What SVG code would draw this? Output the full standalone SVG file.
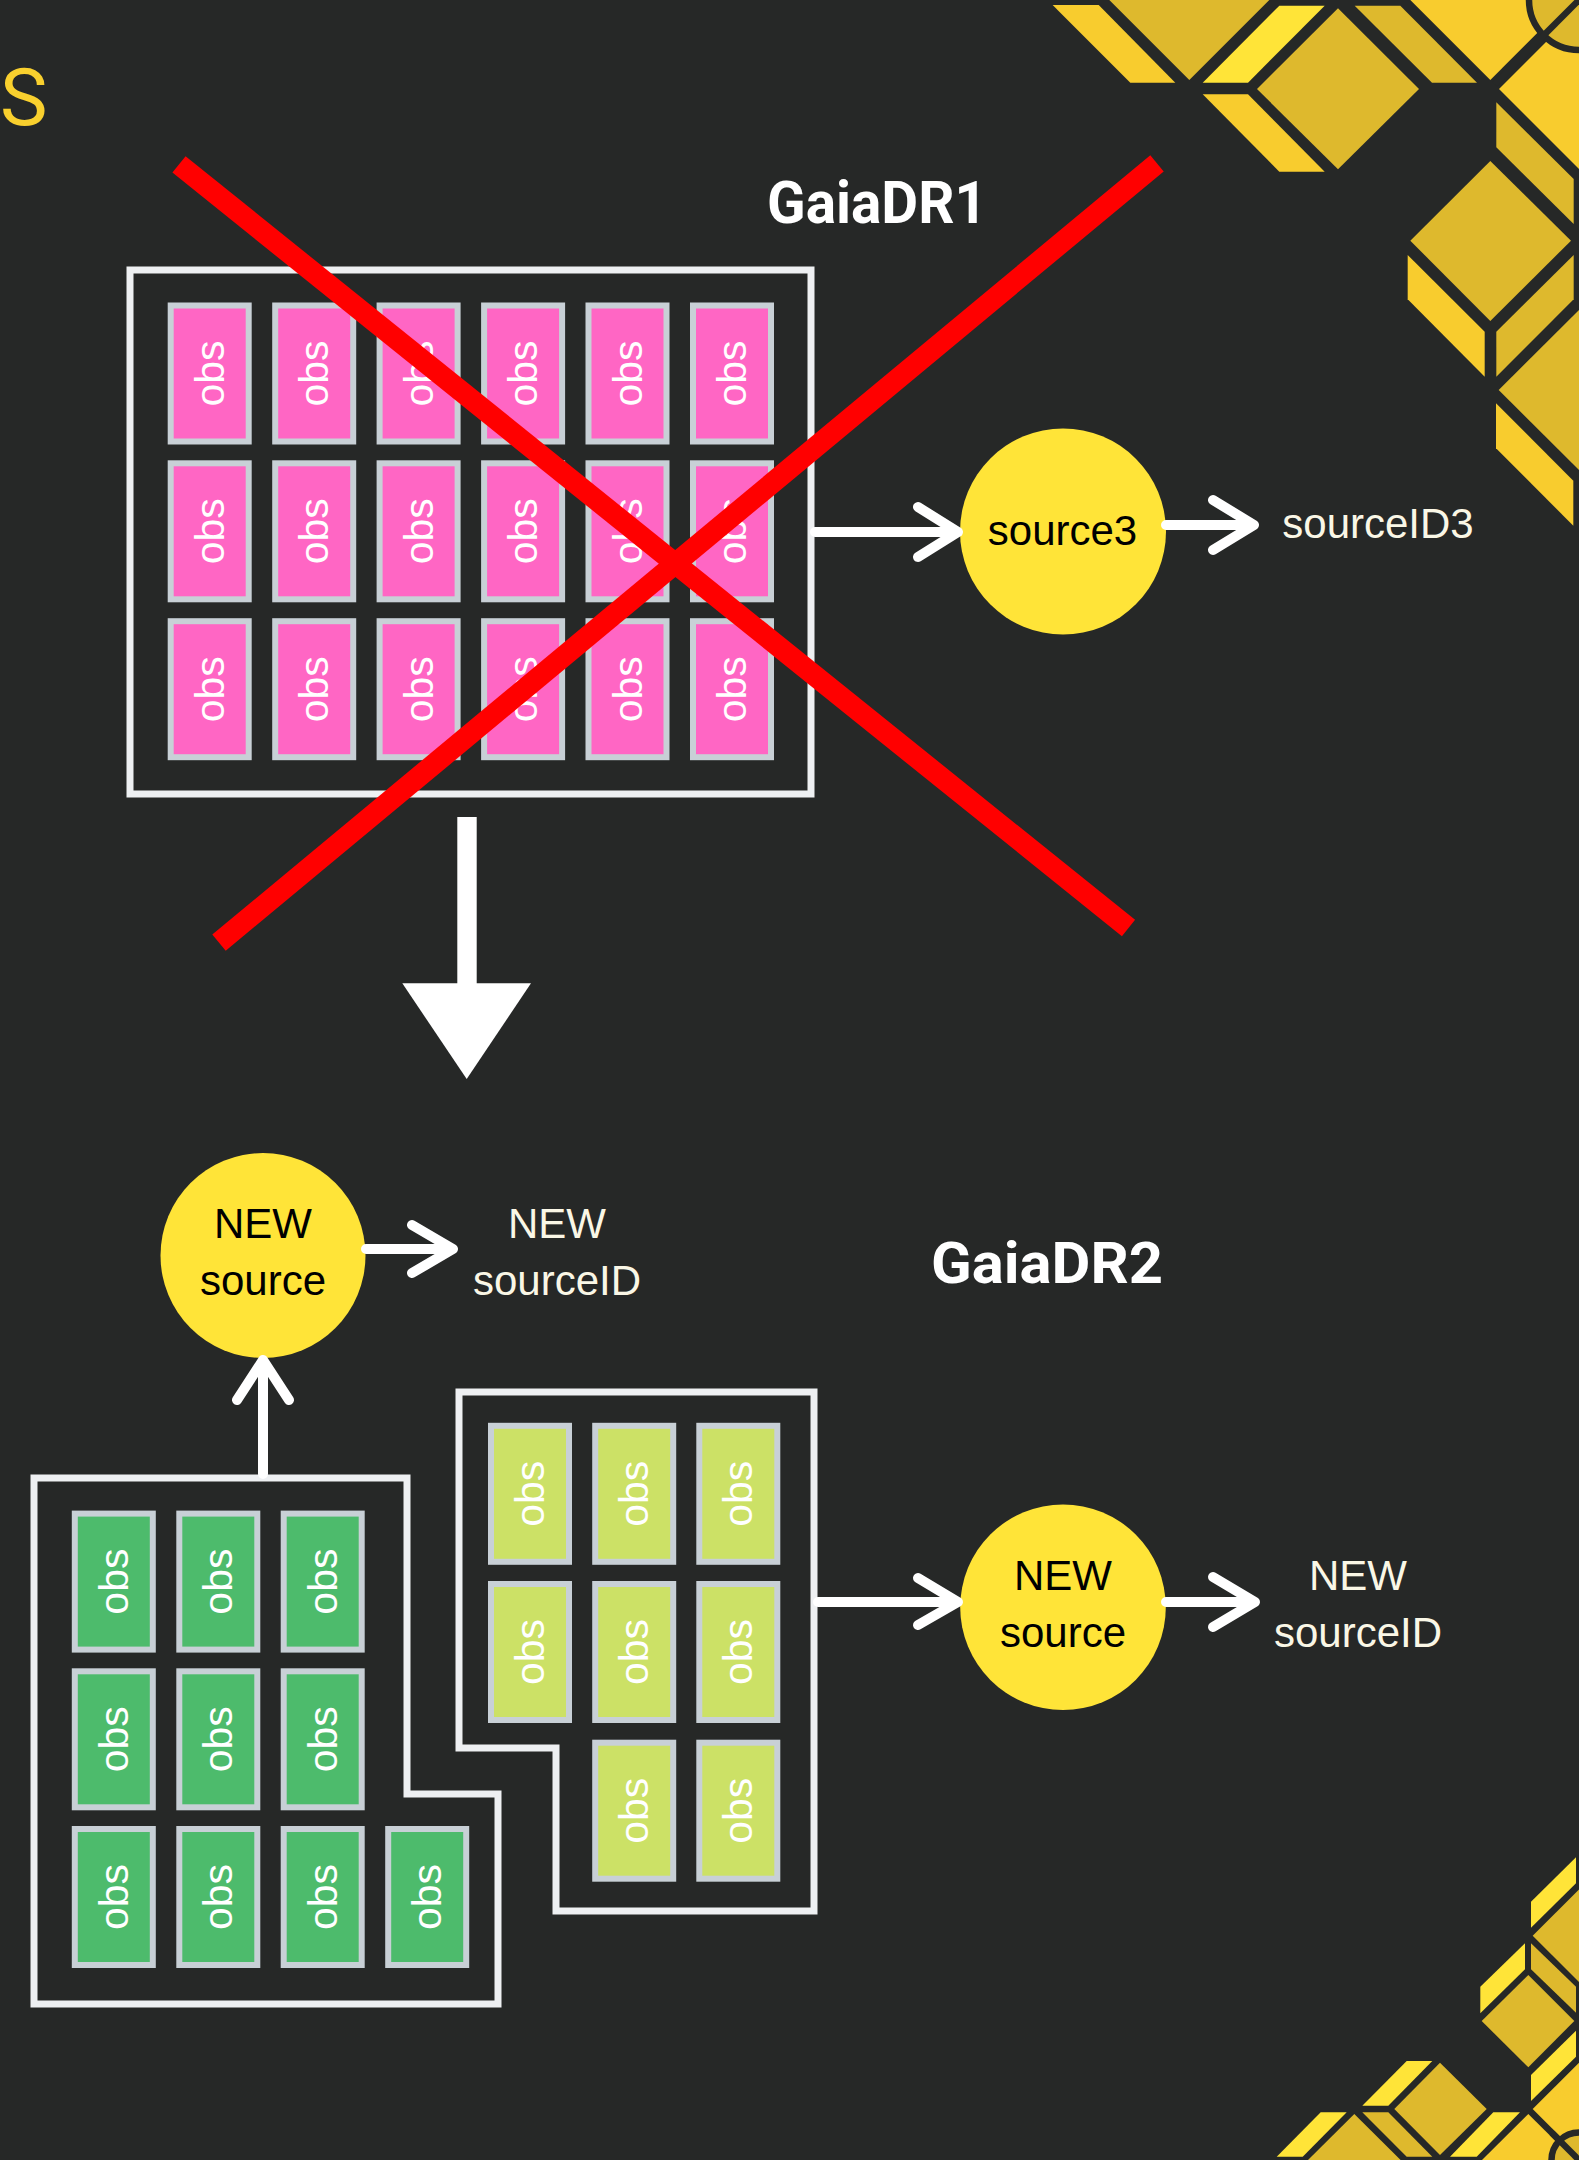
<svg xmlns="http://www.w3.org/2000/svg" width="1579" height="2160" viewBox="0 0 1579 2160">
<style>
.bg{fill:#262827}
.c1{fill:#FFE438}
.c2{fill:#F8CC2E}
.c3{fill:#DEB92D}
.ring{stroke:#262827;stroke-width:6.5}
.gap{stroke:#262827;stroke-width:6.5;fill:none}
.box{fill:none;stroke:#EEF0F2;stroke-width:7;stroke-linecap:square}
.pk{fill:#FF66C4;stroke:#C8D0D6;stroke-width:6}
.gr{fill:#4DBB6C;stroke:#C8D0D6;stroke-width:6}
.lg{fill:#CCE166;stroke:#C8D0D6;stroke-width:6}
.obs{font-family:"Liberation Sans",Arial,sans-serif;font-size:41px;fill:#FFFFFF;text-anchor:middle}
.node{fill:#FFE438}
.ntext{font-family:"Liberation Sans",Arial,sans-serif;font-size:42px;fill:#000000;text-anchor:middle}
.lbl{font-family:"Liberation Sans",Arial,sans-serif;font-size:42px;fill:#FAF7E6;text-anchor:middle}
.title{font-family:Roboto,"Noto Sans",sans-serif;font-weight:700;fill:#FFFFFF}
.conn{fill:none;stroke:#FFFFFF;stroke-width:10;stroke-linecap:round;stroke-linejoin:round}
.xline{stroke:#FF0000;stroke-width:21}
</style>
<rect class="bg" x="0" y="0" width="1579" height="2160"/>

<g id="decor-top-right">
<polygon class="c2" points="1052.6,5 1098.7,5 1175.3,82.7 1130.3,82.7"/>
<polygon class="c3" points="1109.3,0 1189.3,-80 1269.3,0 1189.3,80"/>
<polygon class="c1" points="1279.3,5.7 1324.7,5.7 1248,82.7 1202.7,82.7"/>
<polygon class="c2" points="1202.7,94.3 1248,94.3 1324.7,171.7 1279.3,171.7"/>
<polygon class="c3" points="1257,89 1338,8.3 1419,89 1338,169.3"/>
<polygon class="c3" points="1354.7,5.7 1400.3,5.7 1477,82.7 1432,82.7"/>
<polygon class="c2" points="1410.3,0 1490.3,-80 1570.3,0 1490.3,80"/>
<polygon class="c2" points="1499,89 1579,9 1659,89 1579,169"/>
<circle class="c3 ring" cx="1579" cy="0" r="50"/>
<line class="gap" x1="1494.6" y1="84.5" x2="1584" y2="-5"/>
<polygon class="c3" points="1496.3,102.3 1573.7,179 1573.7,224 1496.3,147.3"/>
<polygon class="c3" points="1410.3,240.7 1490.3,161 1571,240.7 1490.3,321"/>
<polygon class="c2" points="1407.7,255 1484.7,331.7 1484.7,376.7 1407.7,299.3"/>
<polygon class="c3" points="1496.3,331.7 1573.7,255 1573.7,299.3 1496.3,376.7"/>
<polygon class="c3" points="1498.7,390 1579,310 1659,390 1579,470"/>
<polygon class="c2" points="1496,403.3 1573.3,480.7 1573.3,525.7 1496,448.3"/>
</g>

<g id="decor-bottom-right">
<polygon class="c1" points="1531,1901.7 1576,1857.3 1576,1883.3 1531,1927.7"/>
<polygon class="c3" points="1532.7,1935.7 1579,1889.4 1625,1935.7 1579,1982"/>
<polygon class="c3" points="1531,1943.3 1576,1986.7 1576,2012.7 1531,1969.3"/>
<polygon class="c1" points="1480.3,1986.7 1525,1943.3 1525,1969.3 1480.3,2013.3"/>
<polygon class="c3" points="1481.7,2021 1528.3,1975 1574.3,2021 1528.3,2067.3"/>
<polygon class="c1" points="1531,2075 1576,2030.7 1576,2056.7 1531,2101"/>
<polygon class="c2" points="1532.7,2109 1579,2062.7 1625,2109 1579,2155.3"/>
<polygon class="c2" points="1482,2160 1528.3,2114 1574.6,2160 1528.3,2206"/>
<circle class="c3 ring" cx="1579" cy="2160" r="27.5"/>
<line class="gap" x1="1552" y1="2133" x2="1590" y2="2171"/>
<polygon class="c1" points="1450,2156.7 1493.3,2112.3 1520,2112.3 1476.7,2156.7"/>
<polygon class="c3" points="1394.3,2109 1440,2062.7 1486.7,2109 1440,2155"/>
<polygon class="c1" points="1362.3,2105.7 1406.7,2061 1432.3,2061 1388.3,2105.7"/>
<polygon class="c3" points="1362.3,2112.3 1388.3,2112.3 1432.3,2156.7 1406.7,2156.7"/>
<polygon class="c3" points="1308,2160 1354.3,2114 1400.6,2160 1354.3,2206"/>
<polygon class="c1" points="1276.7,2156.7 1320.7,2112.3 1346.7,2112.3 1302.7,2156.7"/>
</g>

<g id="title-fragment">
<text x="0" y="125" style="font-family:Roboto,'Noto Sans',sans-serif;font-size:80px;fill:#F9D02E">S</text>
</g>

<g id="label-gaiadr1">
<text class="title" x="767" y="223" font-size="60" textLength="220" lengthAdjust="spacingAndGlyphs">GaiaDR1</text>
</g>
<g id="label-gaiadr2">
<text class="title" x="931" y="1283.3" font-size="58" textLength="232" lengthAdjust="spacingAndGlyphs">GaiaDR2</text>
</g>

<g id="dr1-container">
<rect class="box" x="130" y="270" width="681" height="524"/>
</g>
<g id="dr1-cells">
<g id="dr1-r1c1" transform="translate(167.7,302.5)"><rect class="pk" x="3" y="3" width="78" height="136"/><text class="obs" transform="translate(42,71) rotate(-90)" y="14">obs</text></g>
<g id="dr1-r1c2" transform="translate(272.2,302.5)"><rect class="pk" x="3" y="3" width="78" height="136"/><text class="obs" transform="translate(42,71) rotate(-90)" y="14">obs</text></g>
<g id="dr1-r1c3" transform="translate(376.6,302.5)"><rect class="pk" x="3" y="3" width="78" height="136"/><text class="obs" transform="translate(42,71) rotate(-90)" y="14">obs</text></g>
<g id="dr1-r1c4" transform="translate(481.1,302.5)"><rect class="pk" x="3" y="3" width="78" height="136"/><text class="obs" transform="translate(42,71) rotate(-90)" y="14">obs</text></g>
<g id="dr1-r1c5" transform="translate(585.5,302.5)"><rect class="pk" x="3" y="3" width="78" height="136"/><text class="obs" transform="translate(42,71) rotate(-90)" y="14">obs</text></g>
<g id="dr1-r1c6" transform="translate(690,302.5)"><rect class="pk" x="3" y="3" width="78" height="136"/><text class="obs" transform="translate(42,71) rotate(-90)" y="14">obs</text></g>
<g id="dr1-r2c1" transform="translate(167.7,460.3)"><rect class="pk" x="3" y="3" width="78" height="136"/><text class="obs" transform="translate(42,71) rotate(-90)" y="14">obs</text></g>
<g id="dr1-r2c2" transform="translate(272.2,460.3)"><rect class="pk" x="3" y="3" width="78" height="136"/><text class="obs" transform="translate(42,71) rotate(-90)" y="14">obs</text></g>
<g id="dr1-r2c3" transform="translate(376.6,460.3)"><rect class="pk" x="3" y="3" width="78" height="136"/><text class="obs" transform="translate(42,71) rotate(-90)" y="14">obs</text></g>
<g id="dr1-r2c4" transform="translate(481.1,460.3)"><rect class="pk" x="3" y="3" width="78" height="136"/><text class="obs" transform="translate(42,71) rotate(-90)" y="14">obs</text></g>
<g id="dr1-r2c5" transform="translate(585.5,460.3)"><rect class="pk" x="3" y="3" width="78" height="136"/><text class="obs" transform="translate(42,71) rotate(-90)" y="14">obs</text></g>
<g id="dr1-r2c6" transform="translate(690,460.3)"><rect class="pk" x="3" y="3" width="78" height="136"/><text class="obs" transform="translate(42,71) rotate(-90)" y="14">obs</text></g>
<g id="dr1-r3c1" transform="translate(167.7,618.2)"><rect class="pk" x="3" y="3" width="78" height="136"/><text class="obs" transform="translate(42,71) rotate(-90)" y="14">obs</text></g>
<g id="dr1-r3c2" transform="translate(272.2,618.2)"><rect class="pk" x="3" y="3" width="78" height="136"/><text class="obs" transform="translate(42,71) rotate(-90)" y="14">obs</text></g>
<g id="dr1-r3c3" transform="translate(376.6,618.2)"><rect class="pk" x="3" y="3" width="78" height="136"/><text class="obs" transform="translate(42,71) rotate(-90)" y="14">obs</text></g>
<g id="dr1-r3c4" transform="translate(481.1,618.2)"><rect class="pk" x="3" y="3" width="78" height="136"/><text class="obs" transform="translate(42,71) rotate(-90)" y="14">obs</text></g>
<g id="dr1-r3c5" transform="translate(585.5,618.2)"><rect class="pk" x="3" y="3" width="78" height="136"/><text class="obs" transform="translate(42,71) rotate(-90)" y="14">obs</text></g>
<g id="dr1-r3c6" transform="translate(690,618.2)"><rect class="pk" x="3" y="3" width="78" height="136"/><text class="obs" transform="translate(42,71) rotate(-90)" y="14">obs</text></g>
</g>

<g id="dr2a-container">
<polygon class="box" points="34,1478 407,1478 407,1794 498,1794 498,2004 34,2004"/>
</g>
<g id="dr2a-cells">
<g id="dr2a-r1c1" transform="translate(71.8,1510.6)"><rect class="gr" x="3" y="3" width="78" height="136"/><text class="obs" transform="translate(42,71) rotate(-90)" y="14">obs</text></g>
<g id="dr2a-r1c2" transform="translate(176.3,1510.6)"><rect class="gr" x="3" y="3" width="78" height="136"/><text class="obs" transform="translate(42,71) rotate(-90)" y="14">obs</text></g>
<g id="dr2a-r1c3" transform="translate(280.7,1510.6)"><rect class="gr" x="3" y="3" width="78" height="136"/><text class="obs" transform="translate(42,71) rotate(-90)" y="14">obs</text></g>
<g id="dr2a-r2c1" transform="translate(71.8,1668.3)"><rect class="gr" x="3" y="3" width="78" height="136"/><text class="obs" transform="translate(42,71) rotate(-90)" y="14">obs</text></g>
<g id="dr2a-r2c2" transform="translate(176.3,1668.3)"><rect class="gr" x="3" y="3" width="78" height="136"/><text class="obs" transform="translate(42,71) rotate(-90)" y="14">obs</text></g>
<g id="dr2a-r2c3" transform="translate(280.7,1668.3)"><rect class="gr" x="3" y="3" width="78" height="136"/><text class="obs" transform="translate(42,71) rotate(-90)" y="14">obs</text></g>
<g id="dr2a-r3c1" transform="translate(71.8,1826)"><rect class="gr" x="3" y="3" width="78" height="136"/><text class="obs" transform="translate(42,71) rotate(-90)" y="14">obs</text></g>
<g id="dr2a-r3c2" transform="translate(176.3,1826)"><rect class="gr" x="3" y="3" width="78" height="136"/><text class="obs" transform="translate(42,71) rotate(-90)" y="14">obs</text></g>
<g id="dr2a-r3c3" transform="translate(280.7,1826)"><rect class="gr" x="3" y="3" width="78" height="136"/><text class="obs" transform="translate(42,71) rotate(-90)" y="14">obs</text></g>
<g id="dr2a-r3c4" transform="translate(385.2,1826)"><rect class="gr" x="3" y="3" width="78" height="136"/><text class="obs" transform="translate(42,71) rotate(-90)" y="14">obs</text></g>
</g>

<g id="dr2b-container">
<polygon class="box" points="459,1392 814,1392 814,1911 556,1911 556,1748 459,1748"/>
</g>
<g id="dr2b-cells">
<g id="dr2b-r1c1" transform="translate(488,1422.8)"><rect class="lg" x="3" y="3" width="78" height="136"/><text class="obs" transform="translate(42,71) rotate(-90)" y="14">obs</text></g>
<g id="dr2b-r1c2" transform="translate(592.2,1422.8)"><rect class="lg" x="3" y="3" width="78" height="136"/><text class="obs" transform="translate(42,71) rotate(-90)" y="14">obs</text></g>
<g id="dr2b-r1c3" transform="translate(696.3,1422.8)"><rect class="lg" x="3" y="3" width="78" height="136"/><text class="obs" transform="translate(42,71) rotate(-90)" y="14">obs</text></g>
<g id="dr2b-r2c1" transform="translate(488,1581)"><rect class="lg" x="3" y="3" width="78" height="136"/><text class="obs" transform="translate(42,71) rotate(-90)" y="14">obs</text></g>
<g id="dr2b-r2c2" transform="translate(592.2,1581)"><rect class="lg" x="3" y="3" width="78" height="136"/><text class="obs" transform="translate(42,71) rotate(-90)" y="14">obs</text></g>
<g id="dr2b-r2c3" transform="translate(696.3,1581)"><rect class="lg" x="3" y="3" width="78" height="136"/><text class="obs" transform="translate(42,71) rotate(-90)" y="14">obs</text></g>
<g id="dr2b-r3c2" transform="translate(592.2,1739.7)"><rect class="lg" x="3" y="3" width="78" height="136"/><text class="obs" transform="translate(42,71) rotate(-90)" y="14">obs</text></g>
<g id="dr2b-r3c3" transform="translate(696.3,1739.7)"><rect class="lg" x="3" y="3" width="78" height="136"/><text class="obs" transform="translate(42,71) rotate(-90)" y="14">obs</text></g>
</g>

<g id="node-source3">
<circle class="node" cx="1063" cy="531.5" r="103"/>
<text class="ntext" x="1062.5" y="545">source3</text>
</g>
<g id="label-sourceid3">
<text class="lbl" x="1378" y="537.5">sourceID3</text>
</g>

<g id="node-new-source-a">
<circle class="node" cx="263" cy="1255.5" r="102.5"/>
<text class="ntext" x="263" y="1238">NEW</text>
<text class="ntext" x="263" y="1295">source</text>
</g>
<g id="label-new-sourceid-a">
<text class="lbl" x="557" y="1238">NEW</text>
<text class="lbl" x="557" y="1295">sourceID</text>
</g>

<g id="node-new-source-b">
<circle class="node" cx="1063" cy="1607.2" r="102.8"/>
<text class="ntext" x="1063" y="1590">NEW</text>
<text class="ntext" x="1063" y="1646.7">source</text>
</g>
<g id="label-new-sourceid-b">
<text class="lbl" x="1358" y="1590">NEW</text>
<text class="lbl" x="1358" y="1646.7">sourceID</text>
</g>

<g id="connectors">
<path class="conn" d="M815 532 H955 M918 507 L958 532 L918 557"/>
<path class="conn" d="M1166 525 H1250 M1213 500 L1254 525 L1213 550"/>
<path class="conn" d="M263 1474 V1364 M237 1400 L263 1360 L289 1400"/>
<path class="conn" d="M366 1249 H449 M412 1225 L453 1249 L412 1273"/>
<path class="conn" d="M818 1602 H955 M918 1578 L958 1602 L918 1625"/>
<path class="conn" d="M1166 1602 H1250 M1213 1577 L1255 1602 L1213 1627"/>
<rect x="457.3" y="817" width="19.4" height="168" fill="#FFFFFF"/>
<polygon points="402.3,983.3 531,983.3 466.7,1079" fill="#FFFFFF"/>
</g>

<g id="cross-out">
<line class="xline" x1="179" y1="164.4" x2="1128.5" y2="928"/>
<line class="xline" x1="1157" y1="163.3" x2="219" y2="942.7"/>
</g>
</svg>
